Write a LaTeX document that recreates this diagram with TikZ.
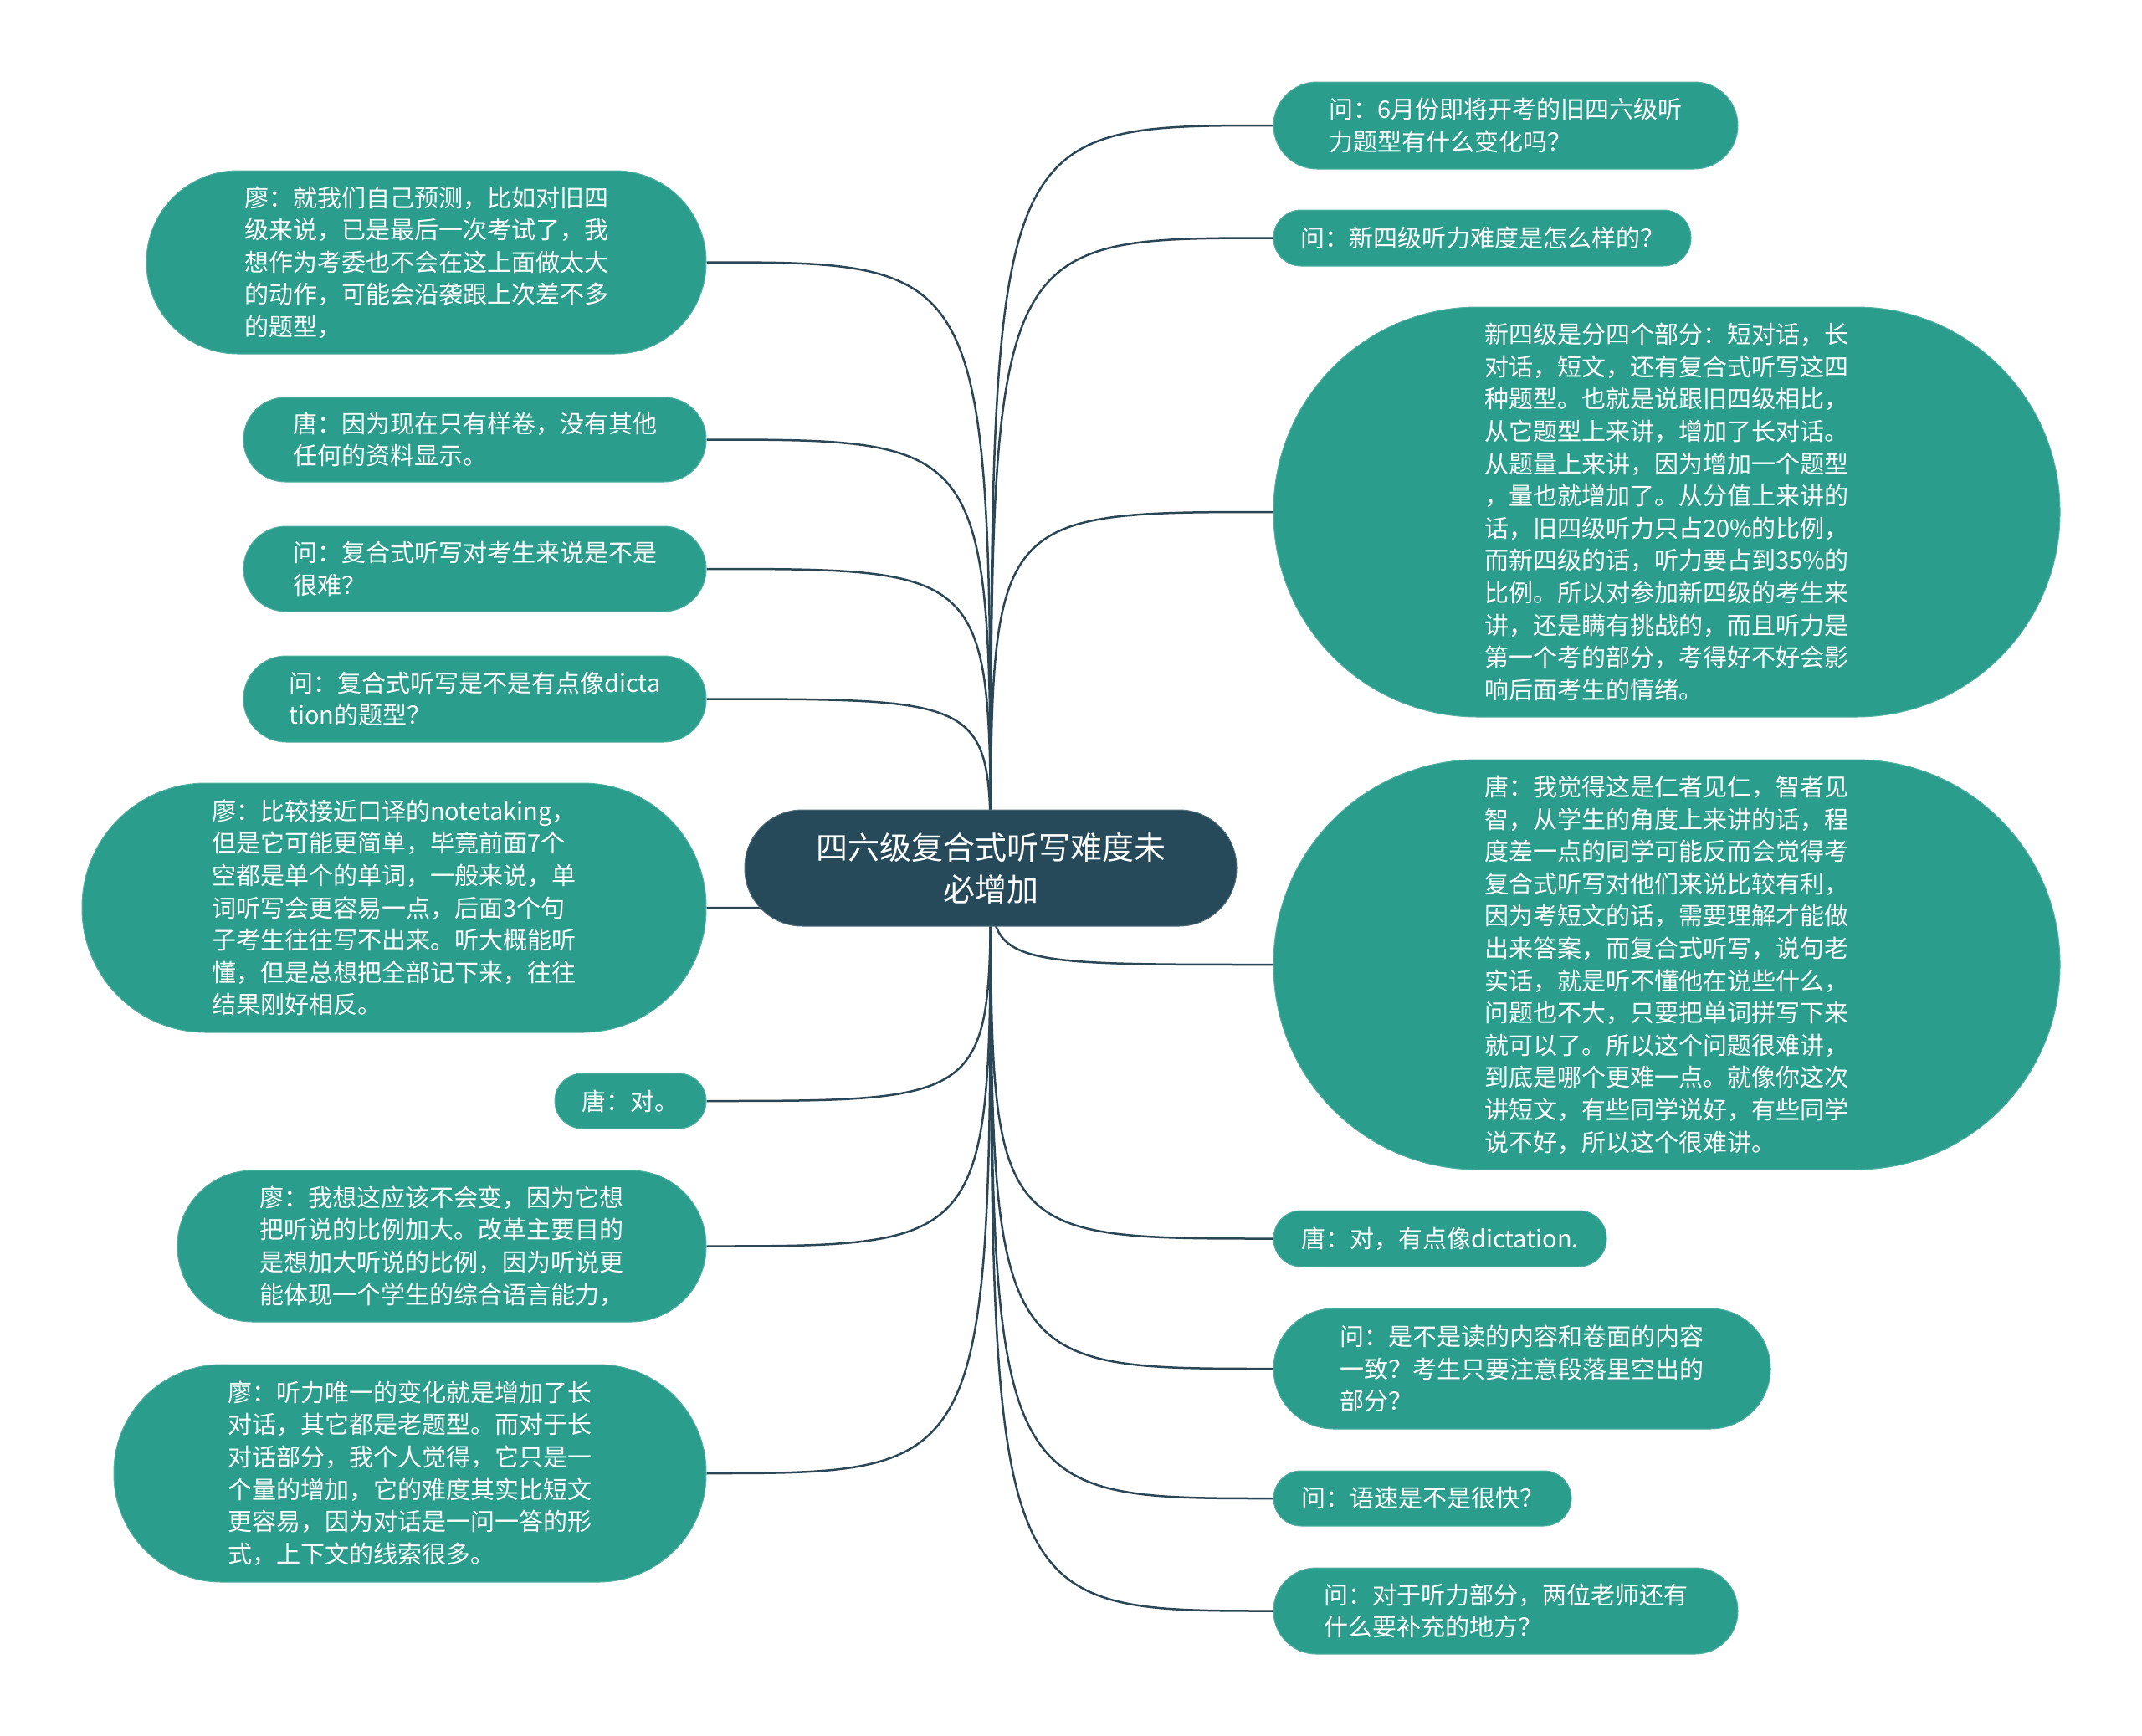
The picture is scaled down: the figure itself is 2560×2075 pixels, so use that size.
\documentclass[tikz,border=0pt]{standalone}
\usepackage{fontspec}
\setmainfont{Noto Sans CJK SC}
\usetikzlibrary{backgrounds}
\definecolor{tealbox}{HTML}{2A9D8C}
\definecolor{navybox}{HTML}{274A5A}
\definecolor{linecol}{HTML}{2B4756}
\tikzset{
  bub/.style={fill=tealbox, draw=tealbox!80!white, line width=1pt, text=white, align=left, inner sep=0pt,
    font=\fontsize{29}{38.6}\selectfont},
  root/.style={fill=navybox, draw=navybox!80!white, line width=1pt, text=white, align=center, inner sep=0pt,
    font=\fontsize{38}{50}\selectfont},
  conn/.style={draw=linecol, line width=2.5pt},
}
\begin{document}
\begin{tikzpicture}[x=1pt,y=-1pt]
\useasboundingbox (0,0) rectangle (2560,2075);
% central node
\node[root, minimum width=588pt, minimum height=139pt, rounded corners=69pt] (c) at (1184,1037.5)
  {四六级复合式听写难度未\\必增加};
% left nodes
\node[bub, minimum width=669pt, minimum height=219pt, rounded corners=109pt] (l1) at (509.5,313.5)
  {廖：就我们自己预测，比如对旧四\\级来说，已是最后一次考试了，我\\想作为考委也不会在这上面做太大\\的动作，可能会沿袭跟上次差不多\\的题型，};
\node[bub, minimum width=553pt, minimum height=101pt, rounded corners=50pt] (l2) at (567.5,525.5)
  {唐：因为现在只有样卷，没有其他\\任何的资料显示。};
\node[bub, minimum width=553pt, minimum height=102pt, rounded corners=51pt] (l3) at (567.5,680)
  {问：复合式听写对考生来说是不是\\很难？};
\node[bub, minimum width=553pt, minimum height=103pt, rounded corners=51pt] (l4) at (567.5,835.5)
  {问：复合式听写是不是有点像dicta\\tion的题型？};
\node[bub, minimum width=746pt, minimum height=298pt, rounded corners=148pt] (l5) at (471,1085)
  {廖：比较接近口译的notetaking，\\但是它可能更简单，毕竟前面7个\\空都是单个的单词，一般来说，单\\词听写会更容易一点，后面3个句\\子考生往往写不出来。听大概能听\\懂，但是总想把全部记下来，往往\\结果刚好相反。};
\node[bub, minimum width=181pt, minimum height=66pt, rounded corners=33pt] (l6) at (753.5,1316)
  {唐：对。};
\node[bub, minimum width=632pt, minimum height=181pt, rounded corners=90pt] (l7) at (528,1489.5)
  {廖：我想这应该不会变，因为它想\\把听说的比例加大。改革主要目的\\是想加大听说的比例，因为听说更\\能体现一个学生的综合语言能力，};
\node[bub, minimum width=708pt, minimum height=260pt, rounded corners=129pt] (l8) at (490,1761)
  {廖：听力唯一的变化就是增加了长\\对话，其它都是老题型。而对于长\\对话部分，我个人觉得，它只是一\\个量的增加，它的难度其实比短文\\更容易，因为对话是一问一答的形\\式，上下文的线索很多。};
% right nodes
\node[bub, minimum width=555pt, minimum height=104pt, rounded corners=52pt] (r1) at (1799.5,150)
  {问：6月份即将开考的旧四六级听\\力题型有什么变化吗？};
\node[bub, minimum width=499pt, minimum height=67pt, rounded corners=33pt] (r2) at (1771.5,284.5)
  {问：新四级听力难度是怎么样的？};
\node[bub, minimum width=940pt, minimum height=490pt, rounded corners=244pt] (r3) at (1992,612)
  {新四级是分四个部分：短对话，长\\对话，短文，还有复合式听写这四\\种题型。也就是说跟旧四级相比，\\从它题型上来讲，增加了长对话。\\从题量上来讲，因为增加一个题型\\，量也就增加了。从分值上来讲的\\话，旧四级听力只占20\%的比例，\\而新四级的话，听力要占到35\%的\\比例。所以对参加新四级的考生来\\讲，还是瞒有挑战的，而且听力是\\第一个考的部分，考得好不好会影\\响后面考生的情绪。};
\node[bub, minimum width=940pt, minimum height=490pt, rounded corners=244pt] (r4) at (1992,1153)
  {唐：我觉得这是仁者见仁，智者见\\智，从学生的角度上来讲的话，程\\度差一点的同学可能反而会觉得考\\复合式听写对他们来说比较有利，\\因为考短文的话，需要理解才能做\\出来答案，而复合式听写，说句老\\实话，就是听不懂他在说些什么，\\问题也不大，只要把单词拼写下来\\就可以了。所以这个问题很难讲，\\到底是哪个更难一点。就像你这次\\讲短文，有些同学说好，有些同学\\说不好，所以这个很难讲。};
\node[bub, minimum width=398pt, minimum height=67pt, rounded corners=33pt] (r5) at (1721,1480.5)
  {唐：对，有点像dictation.};
\node[bub, minimum width=594pt, minimum height=144pt, rounded corners=72pt] (r6) at (1819,1636)
  {问：是不是读的内容和卷面的内容\\一致？考生只要注意段落里空出的\\部分？};
\node[bub, minimum width=356pt, minimum height=66pt, rounded corners=33pt] (r7) at (1700,1791)
  {问：语速是不是很快？};
\node[bub, minimum width=555pt, minimum height=103pt, rounded corners=51pt] (r8) at (1799.5,1925.5)
  {问：对于听力部分，两位老师还有\\什么要补充的地方？};
% connectors and background
\begin{scope}[on background layer]
  \fill[white] (0,0) rectangle (2560,2075);
  \foreach \n in {l1,l2,l3,l4,l5,l6,l7,l8}
    \draw[conn] (c.center) .. controls (c.center |- \n.east) .. (\n.east);
  \foreach \n in {r1,r2,r3,r4,r5,r6,r7,r8}
    \draw[conn] (c.center) .. controls (c.center |- \n.west) .. (\n.west);
\end{scope}
\end{tikzpicture}
\end{document}
